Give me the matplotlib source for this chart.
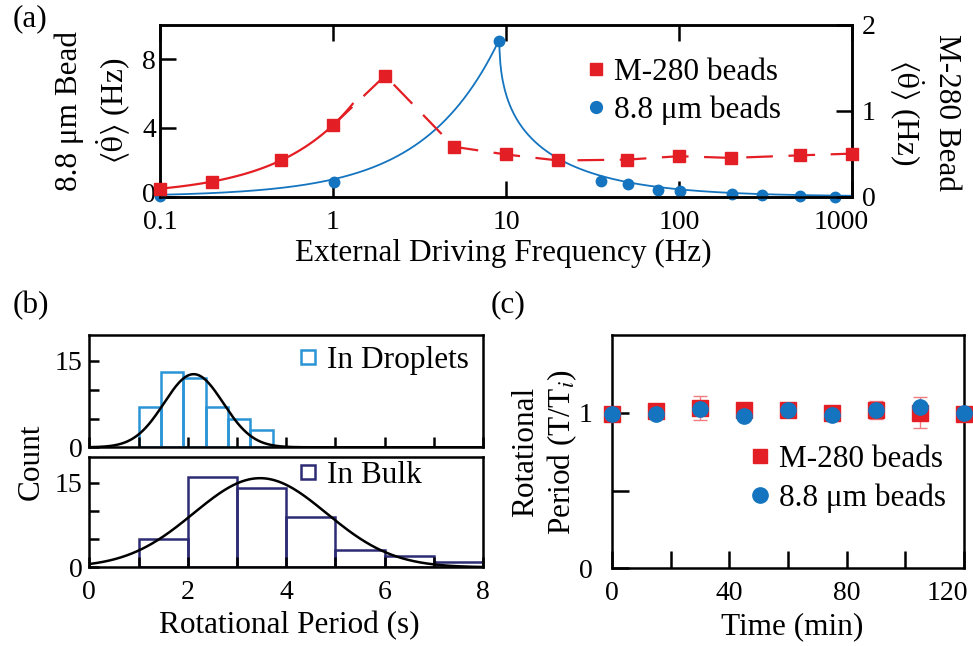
import numpy as np
import matplotlib
matplotlib.use('Agg')
import matplotlib.pyplot as plt
from matplotlib.lines import Line2D
from matplotlib.ticker import FixedLocator, NullLocator
from matplotlib.transforms import ScaledTranslation

plt.rcParams['font.family'] = ['Liberation Serif', 'DejaVu Serif']
plt.rcParams['mathtext.fontset'] = 'stix'
plt.rcParams['axes.linewidth'] = 1.8

RED = '#e31e24'
BLUE = '#1474bf'
DROP_COL = '#2a94d6'
BULK_COL = '#2c2b74'
FS = 22.5
TFS = 20

# (a) mean rotation rate vs driving frequency
freq_m280 = [0.1, 0.2, 0.5, 1, 2, 5, 10, 20, 50, 100, 200, 500, 1000]
rate_m280 = [0.09, 0.17, 0.43, 0.83, 1.41, 0.58, 0.49, 0.42, 0.43, 0.47, 0.45, 0.48, 0.50]
freq_88 = [0.1, 1.02, 9.15, 35.3, 50.8, 75.4, 101, 202, 303, 501, 802]
rate_88 = [0.03, 0.82, 9.09, 0.91, 0.71, 0.40, 0.30, 0.12, 0.06, 0.02, 0.0]
f_crit = 9.15  # step-out frequency, 8.8 um beads

# (b) rotational period histograms
drop_edges = [1.0, 1.455, 1.91, 2.365, 2.82, 3.275, 3.73]
drop_counts = [7, 13, 12, 7, 5, 3]
bulk_edges = [1, 2, 3, 4, 5, 6, 7, 8]
bulk_counts = [5, 16, 14, 9, 3, 2, 1]
drop_fit = (12.7, 2.12, 0.6)   # amplitude, mean, sigma
bulk_fit = (15.8, 3.47, 1.35)

# (c) normalised period over time
time_min = [0, 15, 30, 45, 60, 75, 90, 105, 120]
period_m280 = [0.99, 1.01, 1.03, 1.02, 1.02, 1.0, 1.017, 1.0, 0.995]
period_m280_err = [0.03, 0.03, 0.075, 0.04, 0.03, 0.03, 0.06, 0.1, 0.04]
period_88 = [0.99, 0.99, 1.026, 0.98, 1.015, 0.985, 1.017, 1.036, 1.0]

W, H = 973, 646
fig = plt.figure(figsize=(W / 100, H / 100), dpi=100)


def box(l, t, r, b):
    return [l / W, 1 - b / H, (r - l) / W, (b - t) / H]


def nudge(label, dx_px, dy_px=0):
    shift = ScaledTranslation(dx_px / 100, dy_px / 100, fig.dpi_scale_trans)
    label.set_transform(label.get_transform() + shift)


THETA = r'$\langle\dot{\mathrm{\theta}}\rangle$ (Hz)'

# ---------------- (a) ----------------
ax = fig.add_axes(box(160, 25, 852, 196.5))
axr = ax.twinx()

f = np.sort(np.append(np.logspace(-1, 3, 800), f_crit))
above = np.clip(f ** 2 - f_crit ** 2, 0, None)
theory = np.where(f <= f_crit, f, f - np.sqrt(above))
ax.plot(f, theory, color=BLUE, lw=1.3)
ax.plot(freq_88, rate_88, 'o', color=BLUE, ms=7.5, clip_on=False, zorder=5)

coef = np.polyfit(freq_m280[:4], rate_m280[:4], 1)
ffit = np.linspace(0.1, 1.3, 100)
axr.plot(ffit, np.polyval(coef, ffit), color=RED, lw=1.6)
axr.plot(freq_m280[3:], rate_m280[3:], color=RED, lw=1.6, dashes=(12, 7))
axr.plot(freq_m280, rate_m280, 's', color=RED, ms=8.5, clip_on=False, zorder=5)

ax.set_xscale('log')
ax.set_xlim(0.1, 1000)
ax.set_ylim(0, 10)
axr.set_ylim(0, 2)
ax.xaxis.set_major_locator(FixedLocator([0.1, 1, 10, 100, 1000]))
ax.xaxis.set_minor_locator(NullLocator())
ax.set_xticklabels(['0.1', '1', '10', '100', '1000'])
ax.set_yticks([0, 4, 8])
axr.set_yticks([0, 1, 2])
ax.tick_params(axis='x', direction='in', top=True, length=11.5, width=1.8,
               pad=10, labelsize=TFS)
ax.tick_params(axis='y', direction='in', length=11.5, width=1.8, pad=3,
               labelsize=TFS)
axr.tick_params(axis='y', direction='in', length=11.5, width=1.8, pad=7,
                labelsize=TFS)
nudge(ax.get_xticklabels()[-1], -11)
nudge(ax.get_yticklabels()[0], 0, 4)

handles = [Line2D([], [], marker='s', color=RED, ls='none', ms=8.5),
           Line2D([], [], marker='o', color=BLUE, ls='none', ms=8.5)]
axr.legend(handles, ['M-280 beads', '8.8 μm beads'], loc='upper left',
           bbox_to_anchor=(0.616, 0.809), frameon=False, fontsize=FS,
           handlelength=0.6, handletextpad=0.3, labelspacing=0.28,
           borderpad=0, borderaxespad=0)

fig.text(94 / W, 1 - 111 / H, '8.8 μm Bead\n' + THETA,
         rotation=90, ha='center', va='center', fontsize=FS, linespacing=1.35)
fig.text(924 / W, 1 - 112 / H, 'M-280 Bead\n' + THETA,
         rotation=270, ha='center', va='center', fontsize=FS, linespacing=1.25)
fig.text(503 / W, 1 - 253 / H, 'External Driving Frequency (Hz)',
         ha='center', va='center', fontsize=FS)

# ---------------- (b) ----------------
axt = fig.add_axes(box(89.3, 335, 483, 447.3))
axb = fig.add_axes(box(89.3, 457.3, 483, 567.3))
xg = np.linspace(0, 8, 400)
for a, edges, counts, col, fit, lab, top in [
        (axt, drop_edges, drop_counts, DROP_COL, drop_fit, 'In Droplets', 0.90),
        (axb, bulk_edges, bulk_counts, BULK_COL, bulk_fit, 'In Bulk', 0.965)]:
    widths = np.diff(edges)
    a.bar(edges[:-1], counts, width=widths, align='edge', fill=False,
          edgecolor=col, linewidth=1.8)
    amp, mu, sig = fit
    a.plot(xg, amp * np.exp(-(xg - mu) ** 2 / (2 * sig ** 2)), color='k', lw=1.8)
    a.set_xlim(0, 8)
    a.set_ylim(0, 19.5)
    a.set_xticks(range(0, 9))
    a.set_yticks([0, 5, 10, 15])
    a.set_yticklabels(['0', '', '', '15'])
    a.tick_params(direction='in', length=7, width=1.8, labelsize=TFS, pad=5)
    a.tick_params(axis='x', pad=9)
    h = Line2D([], [], marker='s', mfc='none', mec=col, mew=1.8, ls='none', ms=10)
    a.legend([h], [lab], loc='upper left', frameon=False, fontsize=FS,
             handlelength=0.6, handletextpad=0.3, borderpad=0,
             borderaxespad=0, bbox_to_anchor=(0.532, top))
axt.set_xticklabels([])
axb.set_xticklabels(['0', '', '2', '', '4', '', '6', '', '8'])
fig.text(31 / W, 1 - 462 / H, 'Count', rotation=90, ha='center',
         va='center', fontsize=FS)
fig.text(289 / W, 1 - 626 / H, 'Rotational Period (s)', ha='center',
         va='center', fontsize=FS)

# ---------------- (c) ----------------
axc = fig.add_axes(box(612, 335, 964, 568.3))
axc.errorbar(time_min, period_m280, yerr=period_m280_err, fmt='none',
             ecolor='#f07c80', elinewidth=1.0, capsize=5, capthick=1.0,
             zorder=2)
axc.plot(time_min, period_m280, 's', color=RED, ms=11, clip_on=False, zorder=3)
axc.plot(time_min, period_88, 'o', color=BLUE, ms=11, clip_on=False, zorder=4)
axc.set_xlim(0, 120)
axc.set_ylim(0, 1.5)
axc.set_xticks(range(0, 121, 20))
axc.set_xticklabels(['0', '', '40', '', '80', '', '120'])
axc.set_yticks([0, 0.5, 1])
axc.set_yticklabels(['0', '', '1'])
axc.tick_params(direction='in', length=12, width=1.8, labelsize=TFS)
axc.tick_params(axis='y', pad=14)
axc.tick_params(axis='x', pad=9)
axc.yaxis.set_minor_locator(FixedLocator([1]))
axc.tick_params(axis='y', which='minor', right=True, left=False,
                direction='in', length=12, width=1.8)
nudge(axc.get_xticklabels()[-1], -17)
handles_c = [Line2D([], [], marker='s', color=RED, ls='none', ms=10),
             Line2D([], [], marker='o', color=BLUE, ls='none', ms=11)]
axc.legend(handles_c, ['M-280 beads', '8.8 μm beads'], loc='upper left',
           bbox_to_anchor=(0.394, 0.528), frameon=False, fontsize=FS,
           handlelength=0.6, handletextpad=0.3, labelspacing=0.31,
           borderpad=0, borderaxespad=0)
fig.text(545 / W, 1 - 452 / H, 'Rotational\nPeriod (T/T$_{i}$)', rotation=90,
         ha='center', va='center', fontsize=FS)
fig.text(792 / W, 1 - 627 / H, 'Time (min)', ha='center', va='center',
         fontsize=FS)

# panel letters
fig.text(30.5 / W, 1 - 19 / H, '(a)', ha='center', va='center', fontsize=FS)
fig.text(30.5 / W, 1 - 306 / H, '(b)', ha='center', va='center', fontsize=FS)
fig.text(508 / W, 1 - 305 / H, '(c)', ha='center', va='center', fontsize=FS)

fig.savefig('out.png', dpi=100)
